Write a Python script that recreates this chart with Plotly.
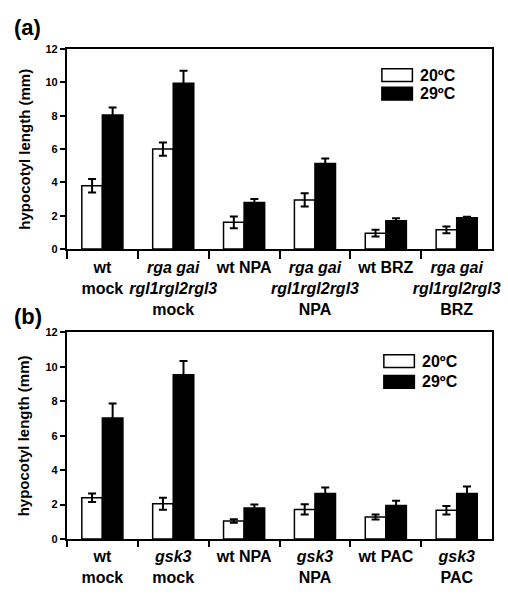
import plotly.graph_objects as go
from plotly.subplots import make_subplots

# ---- data ----
cats_a = ["wt<br>mock", "<i>rga gai<br>rgl1rgl2rgl3</i><br>mock", "wt NPA",
          "<i>rga gai<br>rgl1rgl2rgl3</i><br>NPA", "wt BRZ",
          "<i>rga gai<br>rgl1rgl2rgl3</i><br>BRZ"]
a_20 = [3.8, 6.0, 1.6, 2.95, 0.95, 1.15]
a_20_err = [0.4, 0.4, 0.35, 0.4, 0.2, 0.2]
a_29 = [8.05, 9.95, 2.8, 5.13, 1.7, 1.88]
a_29_err = [0.45, 0.75, 0.2, 0.3, 0.15, 0.06]

cats_b = ["wt<br>mock", "<i>gsk3</i><br>mock", "wt NPA", "<i>gsk3</i><br>NPA",
          "wt PAC", "<i>gsk3</i><br>PAC"]
b_20 = [2.4, 2.05, 1.05, 1.72, 1.28, 1.67]
b_20_err = [0.25, 0.35, 0.1, 0.3, 0.15, 0.25]
b_29 = [7.02, 9.53, 1.8, 2.65, 1.95, 2.65]
b_29_err = [0.85, 0.8, 0.2, 0.35, 0.28, 0.4]

y_ticks = [0, 2, 4, 6, 8, 10, 12]
series_names = ["20ºC", "29ºC"]

FONT = "Liberation Sans, Arial, sans-serif"

fig = make_subplots(rows=2, cols=1)

def add_panel(row, cats, v20, e20, v29, e29):
    err_style = dict(type="data", visible=True, color="black", thickness=2, width=4)
    fig.add_trace(go.Bar(x=cats, y=v20, name=series_names[0],
                         marker=dict(color="white", line=dict(color="black", width=1.5)),
                         error_y=dict(array=e20, **err_style), showlegend=False),
                  row=row, col=1)
    fig.add_trace(go.Bar(x=cats, y=v29, name=series_names[1],
                         marker=dict(color="black", line=dict(color="black", width=1.5)),
                         error_y=dict(array=e29, **err_style), showlegend=False),
                  row=row, col=1)

add_panel(1, cats_a, a_20, a_20_err, a_29, a_29_err)
add_panel(2, cats_b, b_20, b_20_err, b_29, b_29_err)

xdom = [68 / 508, 500 / 508]
fig.update_layout(
    width=508, height=597,
    margin=dict(l=0, r=0, t=0, b=0),
    paper_bgcolor="white", plot_bgcolor="white",
    barmode="group", bargap=0.42, bargroupgap=0,
    font=dict(family=FONT, color="black"),
    showlegend=False,
)
xcommon = dict(type="category", tickson="boundaries", ticks="outside", tickangle=0,
               tickcolor="black", tickwidth=2, showline=True, linecolor="black",
               linewidth=2, mirror=True, showgrid=False, domain=xdom,
               tickfont=dict(family=FONT, size=16, weight="bold", color="black"))
ycommon = dict(range=[0, 12], tickvals=y_ticks, ticks="outside", ticklen=5,
               tickcolor="black", tickwidth=2, showline=True, linecolor="black",
               linewidth=2, mirror=True, showgrid=False, zeroline=False,
               tickfont=dict(family=FONT, size=11, weight="bold", color="black"))
fig.update_layout(
    xaxis=dict(**xcommon, ticklen=8, ticklabelstandoff=3),
    xaxis2=dict(**xcommon, ticklen=6, ticklabelstandoff=2),
    yaxis=dict(**ycommon, domain=[1 - 248 / 597, 1 - 44 / 597]),
    yaxis2=dict(**ycommon, domain=[1 - 544 / 597, 1 - 333 / 597]),
)

ann = []
shapes = []
# y titles
for yc in [1 - 146 / 597, 1 - 438.5 / 597]:
    ann.append(dict(text="<b>hypocotyl length (mm)</b>", x=24 / 508, y=yc,
                    xref="paper", yref="paper", textangle=-90, showarrow=False,
                    font=dict(family=FONT, size=15, color="black"),
                    xanchor="center", yanchor="middle"))
# panel labels
for lab, yc in [("(a)", 1 - 22 / 597), ("(b)", 1 - 317 / 597)]:
    ann.append(dict(text="<b>" + lab + "</b>", x=28 / 508, y=yc, xref="paper",
                    yref="paper", showarrow=False,
                    font=dict(family=FONT, size=22, color="black"),
                    xanchor="center", yanchor="middle"))
# legends
def legend(x0, x1, wy, by, tx):
    for (yt, yb), fill, name in [(wy, "white", series_names[0]), (by, "black", series_names[1])]:
        shapes.append(dict(type="rect", xref="paper", yref="paper",
                           x0=x0 / 508, x1=x1 / 508, y0=1 - yb / 597, y1=1 - yt / 597,
                           fillcolor=fill, line=dict(color="black", width=1.5)))
        ann.append(dict(text="<b>" + name + "</b>", x=tx / 508, y=1 - (yt + yb) / 2 / 597,
                        xref="paper", yref="paper", showarrow=False,
                        xanchor="left", yanchor="middle",
                        font=dict(family=FONT, size=16, color="black")))

legend(388, 419, (64, 77), (83, 96), 425)
legend(390, 421, (356, 369), (377, 390), 427)

fig.update_layout(annotations=ann, shapes=shapes)
fig.write_html("out.html")
